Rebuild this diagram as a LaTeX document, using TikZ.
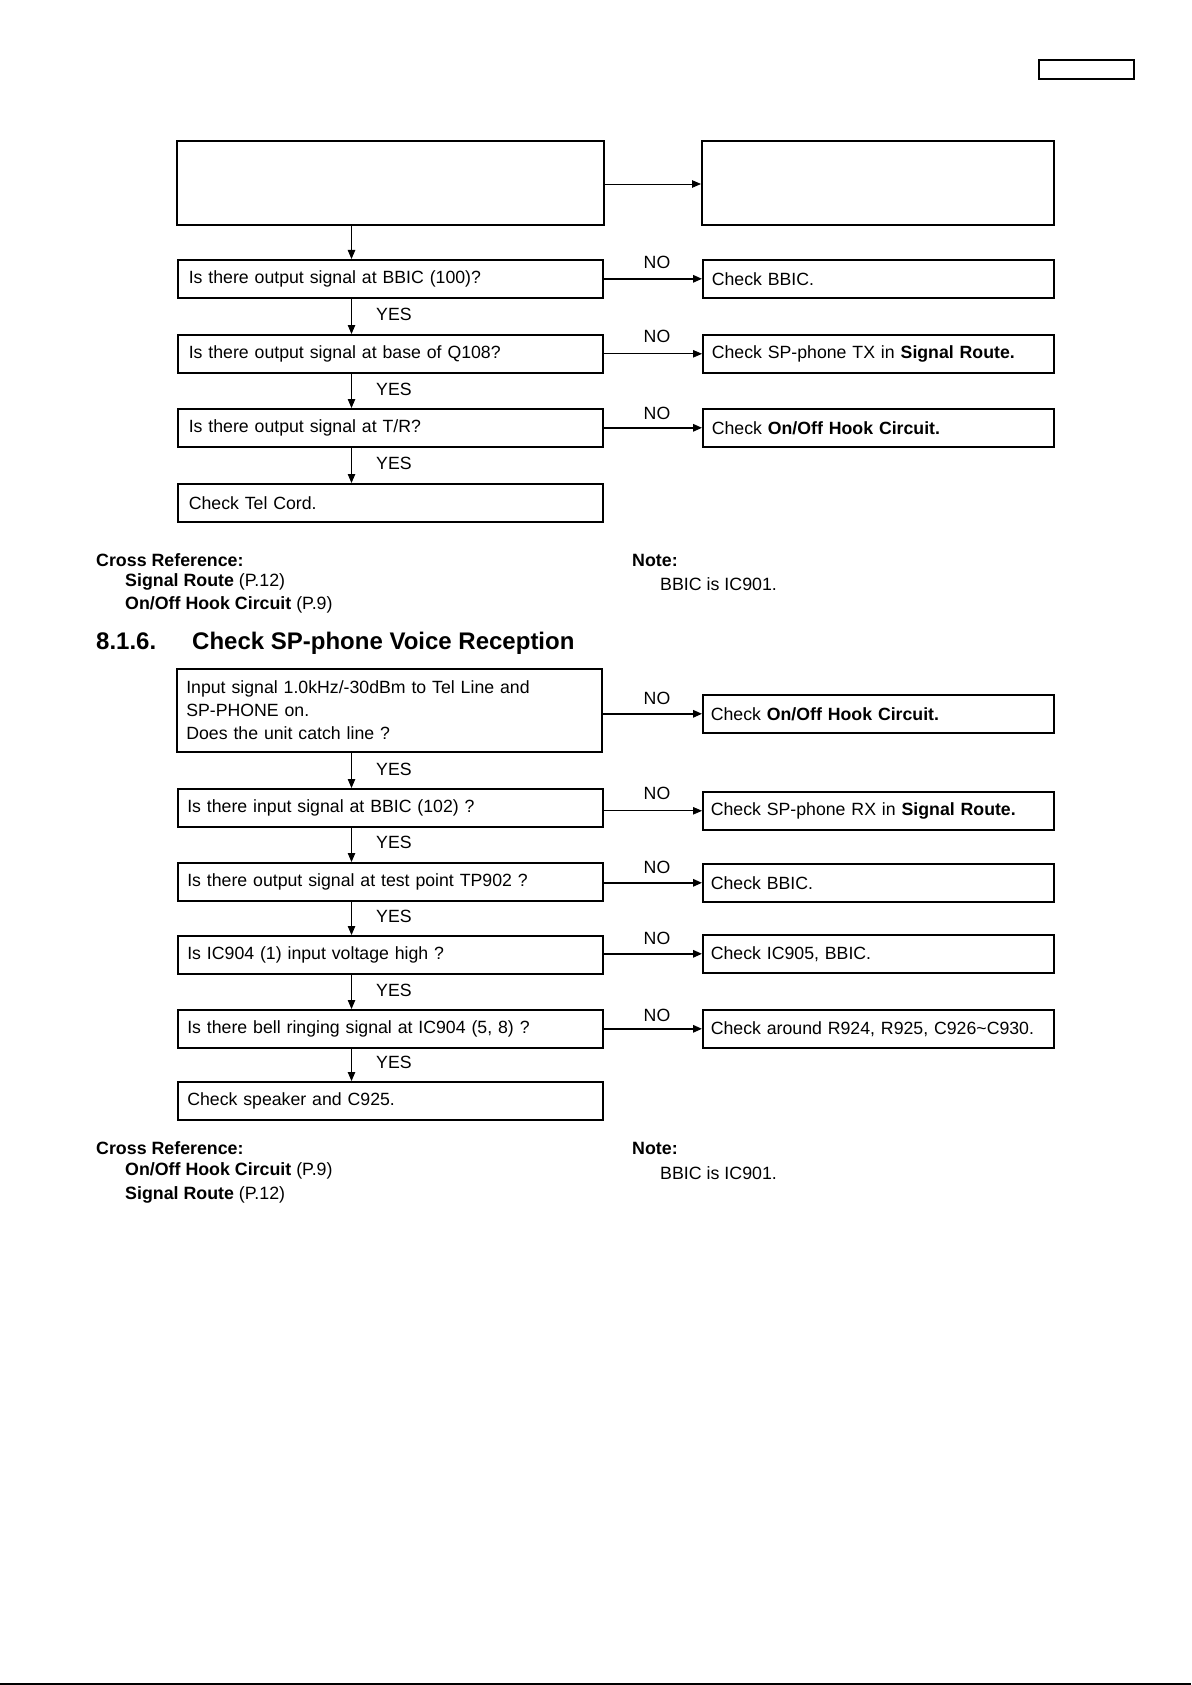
\documentclass[tikz,border=0pt]{standalone}
\usepackage{fontspec}
\setmainfont{Liberation Sans}
\usetikzlibrary{arrows.meta,calc}
\begin{document}
\begin{tikzpicture}[x=1pt,y=-1pt,
  bx/.style={draw,line width=1.6pt,anchor=north west,inner ysep=0pt,align=left,font=\fontsize{17.7}{23}\selectfont},
  lbox/.style={bx,minimum height=38pt,text width=403pt,inner xsep=11pt},
  lboxb/.style={bx,minimum height=38pt,text width=406pt,inner xsep=9.5pt},
  rbox/.style={bx,minimum height=38pt,text width=333pt,inner xsep=9pt},
  lab/.style={font=\fontsize{17.7}{23}\selectfont,inner sep=0pt},
  txt/.style={font=\fontsize{17.8}{23}\selectfont,inner sep=0pt,anchor=base west},
  thin/.style={line width=0.8pt,-{Triangle[length=9pt,width=7.5pt]}},
  thk/.style={line width=1.6pt,-{Triangle[length=9pt,width=7.5pt]}},
]
\useasboundingbox (0,0) rectangle (1191,1685);
\coordinate (vx) at (351.5,0);
% top right tag box
\draw[line width=1.4pt] (1039,60) rectangle (1134,79);
% bottom rule
\draw[line width=2pt] (0,1683.5) -- (1191,1683.5);

% ===== Section 1 =====
\node[bx,minimum width=427pt,minimum height=84pt,inner sep=0pt] (t0) at (176,140) {};
\node[bx,minimum width=352pt,minimum height=84pt,inner sep=0pt] (t0r) at (701,140) {};
\node[lbox] (a1) at (177,259) {Is there output signal at BBIC (100)?};
\node[lbox] (a2) at (177,334) {Is there output signal at base of Q108?};
\node[lbox] (a3) at (177,408) {Is there output signal at T/R?};
\node[lbox] (a4) at (177,483) {Check Tel Cord.};
\node[rbox] (r1) at (702,259) {Check BBIC.};
\node[rbox] (r2) at (702,334) {Check SP-phone TX in \textbf{Signal Route.}};
\node[rbox] (r3) at (702,408) {Check \textbf{On/Off Hook Circuit.}};

\draw[thin] (t0.east |- 0,184) coordinate (q0) -- (t0r.west |- q0);
\draw[thin] (t0.south -| vx) -- (a1.north -| vx);
\draw[thin] (a1.south -| vx) -- (a2.north -| vx);
\draw[thin] (a2.south -| vx) -- (a3.north -| vx);
\draw[thin] (a3.south -| vx) -- (a4.north -| vx);
\draw[thk] (a1.east) -- (r1.west);
\draw[thin] (a2.east) -- (r2.west);
\draw[thk] (a3.east) -- (r3.west);
\node[lab] (n1) at (657,262) {NO};
\node[lab] (n2) at (657,336) {NO};
\node[lab] (n3) at (657,413) {NO};
\node[lab,anchor=west] (y1) at (376,314) {YES};
\node[lab,anchor=west] (y2) at (376,389) {YES};
\node[lab,anchor=west] (y3) at (376,463) {YES};

\node[txt] (cr1) at (96,566) {\textbf{Cross Reference:}};
\node[txt] (cr1a) at (125,586) {\textbf{Signal Route} (P.12)};
\node[txt] (cr1b) at (125,609) {\textbf{On/Off Hook Circuit} (P.9)};
\node[txt] (nt1) at (632,566) {\textbf{Note:}};
\node[txt] (nt1a) at (660,590) {BBIC is IC901.};

\node[anchor=base west,inner sep=0pt,font=\fontsize{24}{28}\selectfont\bfseries] (h1) at (96,649) {8.1.6.};
\node[anchor=base west,inner sep=0pt,font=\fontsize{24}{28}\selectfont\bfseries] (h2) at (192,649) {Check SP-phone Voice Reception};

% ===== Section 2 =====
\node[lboxb,minimum height=83pt] (c1) at (176,668) {Input signal 1.0kHz/-30dBm to Tel Line and\\SP-PHONE on.\\Does the unit catch line ?};
\node[lboxb] (c2) at (177,788) {Is there input signal at BBIC (102) ?};
\node[lboxb] (c3) at (177,862) {Is there output signal at test point TP902 ?};
\node[lboxb] (c4) at (177,935) {Is IC904 (1) input voltage high ?};
\node[lboxb] (c5) at (177,1009) {Is there bell ringing signal at IC904 (5, 8) ?};
\node[lboxb] (c6) at (177,1081) {Check speaker and C925.};
\node[rbox,inner xsep=8pt,text width=335pt] (s1) at (702,694) {Check \textbf{On/Off Hook Circuit.}};
\node[rbox,inner xsep=8pt,text width=335pt] (s2) at (702,791) {Check SP-phone RX in \textbf{Signal Route.}};
\node[rbox,inner xsep=8pt,text width=335pt] (s3) at (702,863) {Check BBIC.};
\node[rbox,inner xsep=8pt,text width=335pt] (s4) at (702,934) {Check IC905, BBIC.};
\node[rbox,inner xsep=8pt,text width=335pt] (s5) at (702,1009) {Check around R924, R925, C926\textasciitilde C930.};

\draw[thin] (c1.south -| vx) -- (c2.north -| vx);
\draw[thin] (c2.south -| vx) -- (c3.north -| vx);
\draw[thin] (c3.south -| vx) -- (c4.north -| vx);
\draw[thin] (c4.south -| vx) -- (c5.north -| vx);
\draw[thin] (c5.south -| vx) -- (c6.north -| vx);
\draw[thk] (c1.east |- s1.west) -- (s1.west);
\draw[thin] (c2.east |- s2.west) -- (s2.west);
\draw[thk] (c3.east |- s3.west) -- (s3.west);
\draw[thk] (c4.east |- s4.west) -- (s4.west);
\draw[thk] (c5.east |- s5.west) -- (s5.west);
\node[lab] (m1) at (657,698) {NO};
\node[lab] (m2) at (657,793) {NO};
\node[lab] (m3) at (657,867) {NO};
\node[lab] (m4) at (657,938) {NO};
\node[lab] (m5) at (657,1015) {NO};
\node[lab,anchor=west] (z1) at (376,769) {YES};
\node[lab,anchor=west] (z2) at (376,842) {YES};
\node[lab,anchor=west] (z3) at (376,916) {YES};
\node[lab,anchor=west] (z4) at (376,990) {YES};
\node[lab,anchor=west] (z5) at (376,1062) {YES};

\node[txt] (cr2) at (96,1154) {\textbf{Cross Reference:}};
\node[txt] (cr2a) at (125,1175) {\textbf{On/Off Hook Circuit} (P.9)};
\node[txt] (cr2b) at (125,1199) {\textbf{Signal Route} (P.12)};
\node[txt] (nt2) at (632,1154) {\textbf{Note:}};
\node[txt] (nt2a) at (660,1179) {BBIC is IC901.};
\end{tikzpicture}
\end{document}
